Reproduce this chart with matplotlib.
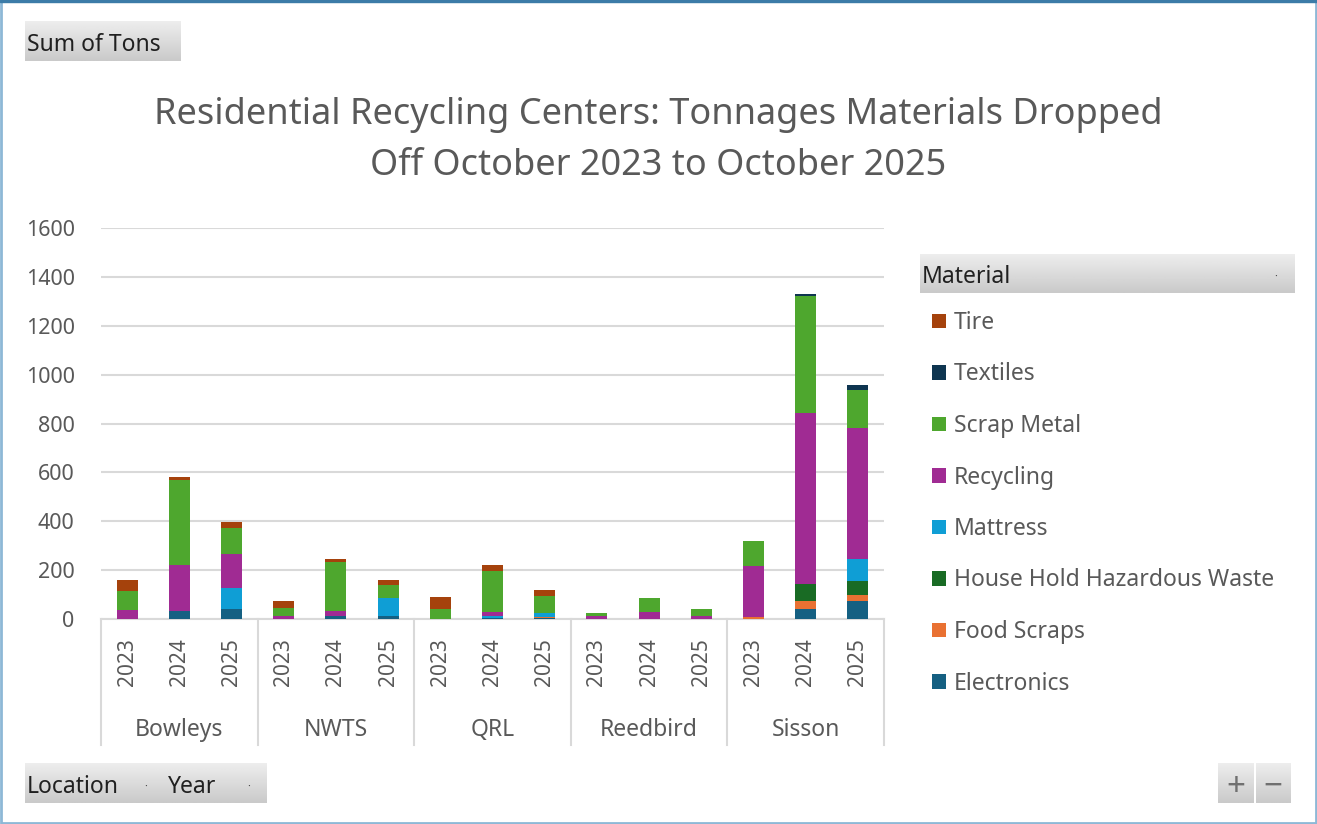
import numpy as np
import matplotlib
matplotlib.use('Agg')
import matplotlib.pyplot as plt
from matplotlib.patches import Rectangle

plt.rcParams['font.family'] = ['Noto Sans', 'DejaVu Sans']

# Daten
locations = ['Bowleys', 'NWTS', 'QRL', 'Reedbird', 'Sisson']
years = ['2023', '2024', '2025']

electronics = [0, 31, 41, 0, 11, 12, 0, 4, 4, 0, 0, 0, 0, 41, 75]
food_scraps = [0, 0, 0, 0, 0, 0, 0, 0, 3, 0, 0, 0, 8, 34, 23]
hhw = [0, 0, 0, 0, 0, 0, 0, 0, 0, 0, 0, 0, 0, 68, 58]
mattress = [0, 0, 86, 0, 0, 73, 0, 10, 18, 0, 0, 0, 0, 0, 88]
recycling = [37, 190, 139, 11, 20, 0, 0, 16, 0, 12, 29, 14, 210, 701, 538]
scrap_metal = [76, 346, 107, 35, 201, 54, 41, 166, 69, 13, 57, 25, 103, 476, 157]
textiles = [0, 0, 0, 0, 0, 0, 0, 0, 0, 0, 0, 0, 0, 11, 18]
tire = [48, 16, 23, 29, 15, 22, 51, 27, 26, 0, 0, 0, 0, 0, 0]

materials = ['Electronics', 'Food Scraps', 'House Hold Hazardous Waste', 'Mattress',
             'Recycling', 'Scrap Metal', 'Textiles', 'Tire']
series = [electronics, food_scraps, hhw, mattress, recycling, scrap_metal, textiles, tire]
colors = ['#156082', '#E97132', '#196B24', '#0F9ED5', '#A02B93', '#4EA72E', '#0E3550', '#A5420C']

W, H = 1317, 824
fig = plt.figure(figsize=(W / 100, H / 100), dpi=100)

def fx(x):
    return x / W

def fy(y):
    return 1 - y / H

# Rahmen
fig.patches.append(Rectangle((0.001, 0.001), 0.998, 0.998, transform=fig.transFigure,
                             fill=False, edgecolor='#8DB8D6', lw=2))
fig.patches.append(Rectangle((0, 0.997), 1, 0.003, transform=fig.transFigure,
                             color='#3C7CA8'))

ax = fig.add_axes([fx(101), fy(619), fx(884) - fx(101), fy(228) - fy(619)])

x = np.arange(len(locations) * len(years))
bottom = np.zeros(len(x))
handles = []
for name, vals, c in zip(materials, series, colors):
    b = ax.bar(x, vals, width=0.4, bottom=bottom, color=c, label=name, zorder=3)
    handles.append(b)
    bottom += np.array(vals)

ax.set_xlim(-0.5, len(x) - 0.5)
ax.set_ylim(0, 1600)
ax.set_yticks(range(0, 1601, 200))
ax.grid(axis='y', color='#D9D9D9', lw=1.5, zorder=0)
for s in ['top', 'right', 'left']:
    ax.spines[s].set_visible(False)
ax.spines['bottom'].set_color('#D9D9D9')
ax.spines['bottom'].set_linewidth(1.5)
ax.tick_params(axis='y', length=0, pad=19, labelsize=15.5, labelcolor='#595959')

ax.set_xticks(x)
ax.set_xticklabels(years * len(locations), rotation=90)
ax.tick_params(axis='x', length=0, pad=14, labelsize=15, labelcolor='#595959')

# Gruppen-Trennlinien und Standortnamen
tr = ax.get_xaxis_transform()
for i in range(len(locations) + 1):
    ax.plot([i * 3 - 0.5] * 2, [0, -0.322], transform=tr, color='#D9D9D9', lw=1.5,
            clip_on=False)
for i, loc in enumerate(locations):
    ax.text(i * 3 + 1, -0.283, loc, transform=tr, ha='center', va='center',
            fontsize=16.5, color='#595959')

# Titel
fig.text(fx(658), fy(115), 'Residential Recycling Centers: Tonnages Materials Dropped',
         ha='center', va='center', fontsize=26, color='#595959')
fig.text(fx(658), fy(166), 'Off October 2023 to October 2025',
         ha='center', va='center', fontsize=26, color='#595959')

# Legende
ax.legend(handles[::-1], materials[::-1], loc='upper left',
          bbox_to_anchor=(fx(932), fy(311)), bbox_transform=fig.transFigure,
          frameon=False, fontsize=16.5, handlelength=0.62, handleheight=0.62,
          handletextpad=0.35, labelspacing=1.2, borderaxespad=0, borderpad=0,
          labelcolor='#595959')

# Schaltflaechen im Pivot-Stil
grad = np.linspace(0.93, 0.79, 50).reshape(-1, 1)

def button(x0, y0, x1, y1, parts):
    bax = fig.add_axes([fx(x0), fy(y1), fx(x1) - fx(x0), fy(y0) - fy(y1)])
    bax.imshow(grad, cmap='gray', vmin=0, vmax=1, aspect='auto', extent=[0, 1, 0, 1])
    bax.set_xlim(0, 1)
    bax.set_ylim(0, 1)
    bax.axis('off')
    for px, txt, kw in parts:
        bax.text((px - x0) / (x1 - x0), 0.4, txt, va='center', **kw)

txt_kw = dict(fontsize=16.5, color='#202020', ha='left')
dot_kw = dict(fontsize=8, color='#404040', ha='center')
sym_kw = dict(fontsize=24, color='#707070', ha='center', fontweight='bold')
button(25, 21, 181, 61, [(27, 'Sum of Tons', txt_kw)])
button(25, 763, 267, 803, [(27, 'Location', txt_kw), (146, '·', dot_kw),
                           (168, 'Year', txt_kw), (249, '·', dot_kw)])
button(920, 254, 1295, 293, [(922, 'Material', txt_kw), (1276, '·', dot_kw)])
button(1218, 763, 1254, 803, [(1236, '+', sym_kw)])
button(1256, 763, 1291, 803, [(1273, '−', sym_kw)])

fig.savefig('out.png', dpi=100)
